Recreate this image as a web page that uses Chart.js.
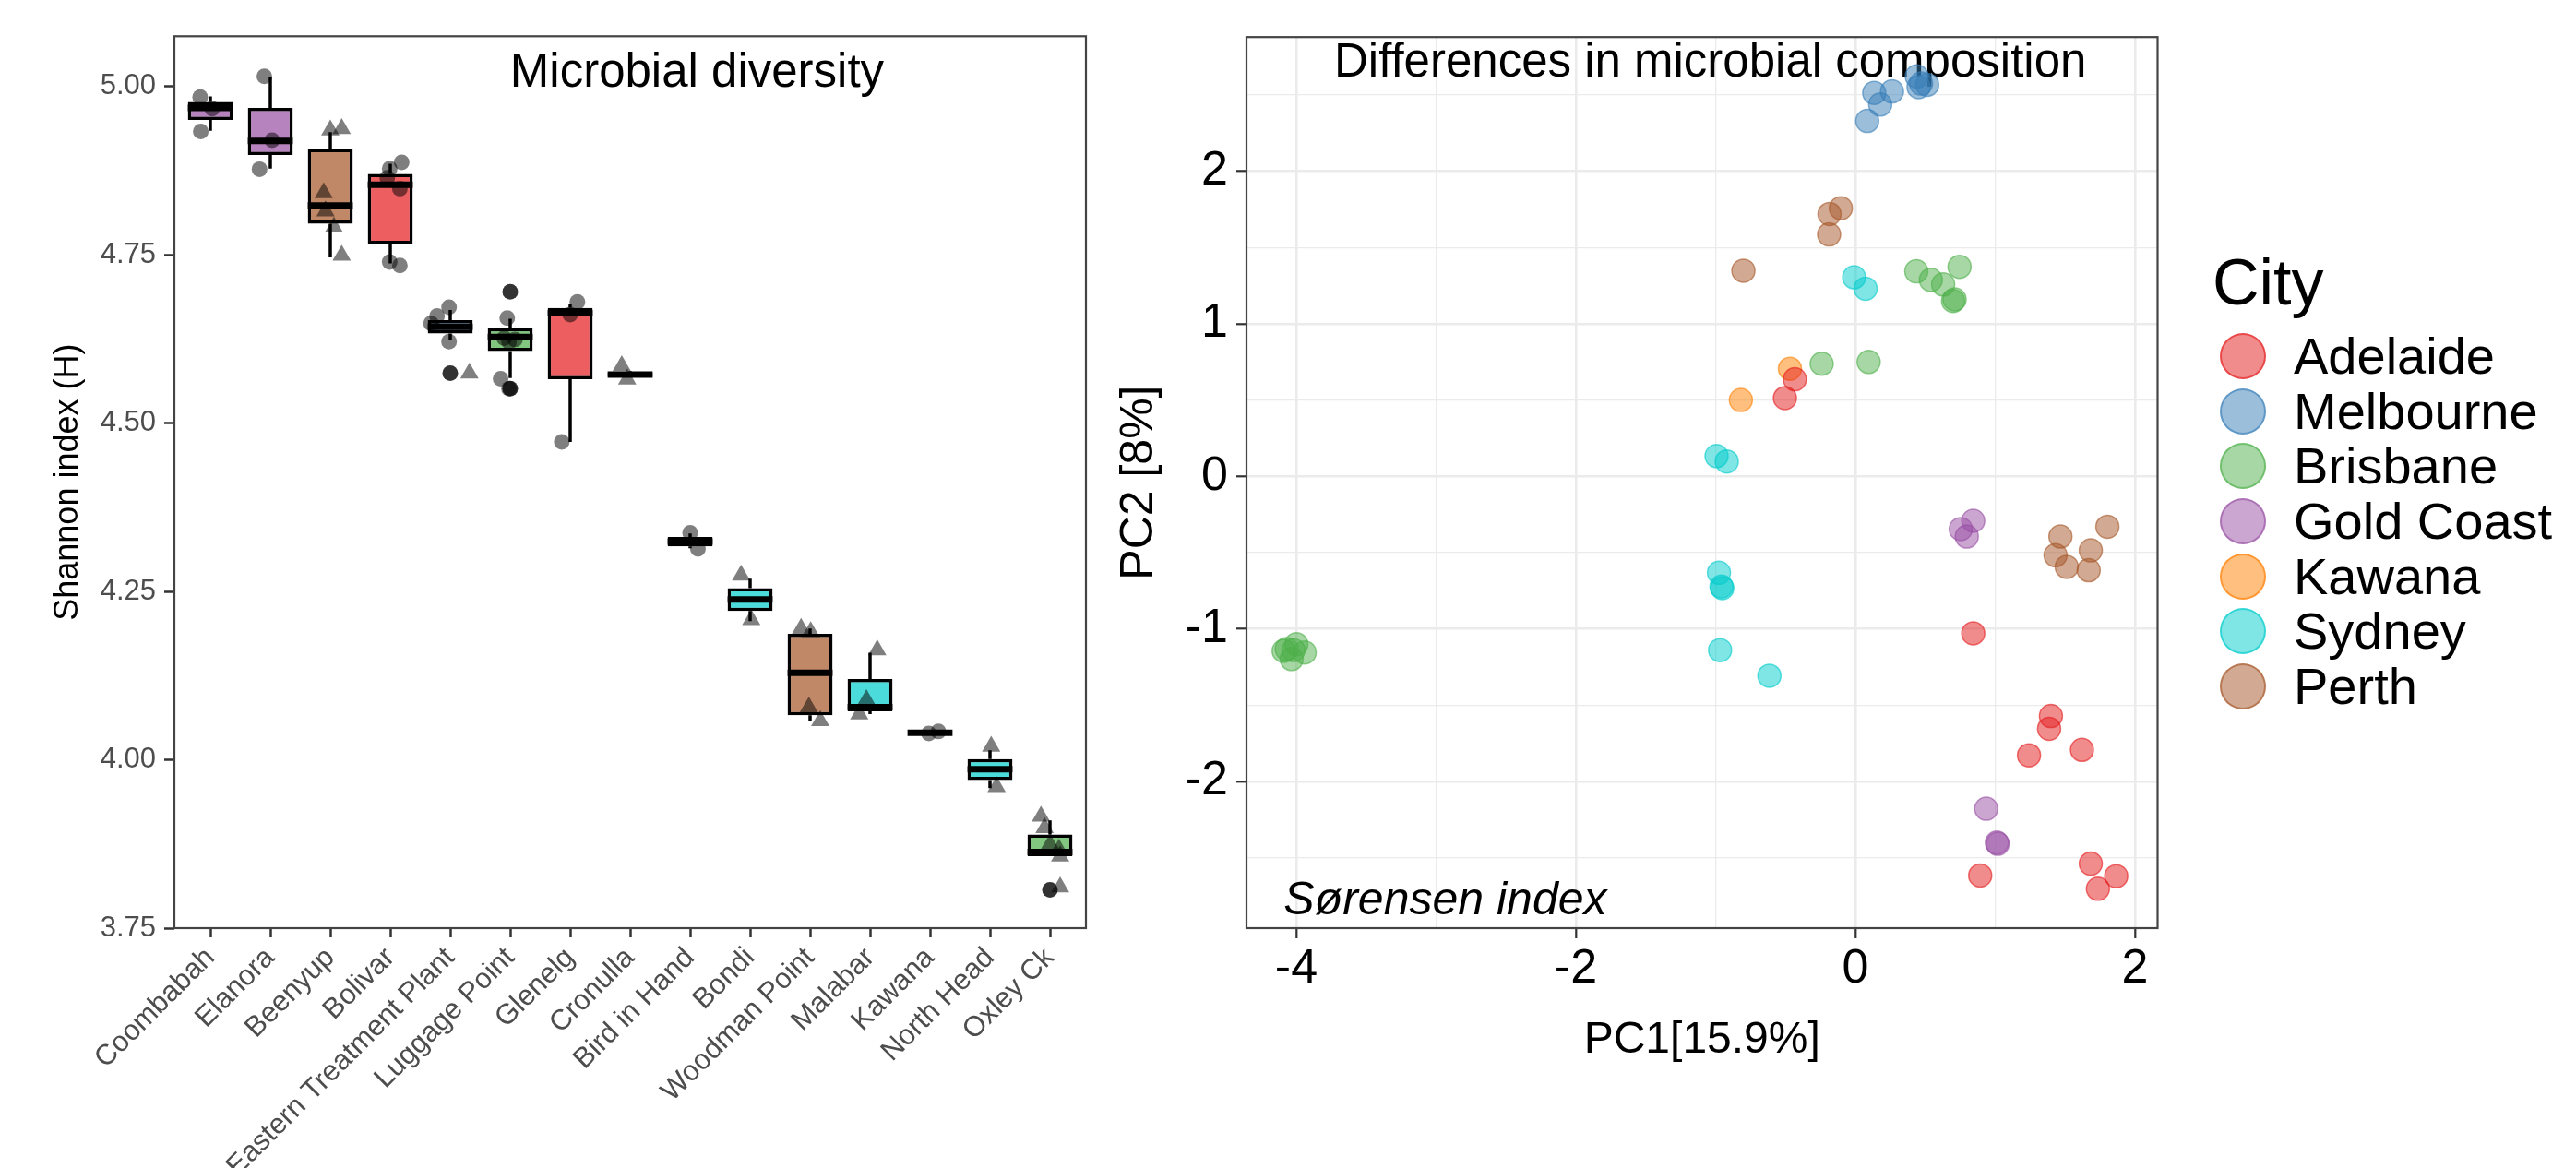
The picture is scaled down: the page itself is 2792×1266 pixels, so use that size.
<!DOCTYPE html>
<html>
<head>
<meta charset="utf-8">
<title>Microbial diversity and composition</title>
<script src="https://cdn.jsdelivr.net/npm/chart.js@4.4.1/dist/chart.umd.min.js"></script>
<style>
  html, body { margin: 0; padding: 0; background: #fff; }
  #stage { position: relative; width: 2792px; height: 1266px; overflow: hidden;
           font-family: 'Liberation Sans', Arial, Helvetica, sans-serif; }
  #diversity   { position: absolute; left: 0; top: 0; }
  #composition { position: absolute; left: 1190px; top: 0; }
  #city-legend { position: absolute; left: 2406px; top: 271px; color: #000; }
  .lg-title { font-size: 70px; line-height: 70px; height: 70px; margin: 0 0 15px -8px; }
  .lg-row   { display: flex; align-items: center; height: 59.7px; font-size: 56px; line-height: 59.7px; white-space: nowrap; }
  .lg-dot   { box-sizing: border-box; width: 50px; height: 50px; border-radius: 50%;
              border: 2px solid; margin-right: 30px; flex: none; }
</style>
</head>
<body>
<div id="stage">
  <canvas id="diversity" width="1190" height="1266"></canvas>
  <canvas id="composition" width="1170" height="1266"></canvas>
  <div id="city-legend"></div>
</div>

<script>
'use strict';

/* ──────────────────────────────────────────
   Left panel — Shannon index per site
   ────────────────────────────────────────── */
const sites = ['Coombabah', 'Elanora', 'Beenyup', 'Bolivar', 'Eastern Treatment Plant',
  'Luggage Point', 'Glenelg', 'Cronulla', 'Bird in Hand', 'Bondi', 'Woodman Point',
  'Malabar', 'Kawana', 'North Head', 'Oxley Ck'];
const siteCity = ['Gold Coast', 'Gold Coast', 'Perth', 'Adelaide', 'Melbourne',
  'Brisbane', 'Adelaide', 'Sydney', 'Adelaide', 'Sydney', 'Perth',
  'Sydney', 'Kawana', 'Sydney', 'Brisbane'];

const whiskerLow  = [4.934, 4.878, 4.746, 4.737, 4.624, 4.567, 4.472, 4.568, 4.314, 4.206, 4.057, 4.068, 4.039, 3.958, 3.857];
const boxLow      = [4.950, 4.898, 4.796, 4.766, 4.633, 4.607, 4.565, 4.569, 4.317, 4.221, 4.066, 4.072, 4.0395, 3.970, 3.857];
const medians     = [4.968, 4.919, 4.823, 4.854, 4.643, 4.628, 4.663, 4.572, 4.324, 4.238, 4.129, 4.078, 4.040, 3.986, 3.863];
const boxHigh     = [4.977, 4.968, 4.907, 4.870, 4.653, 4.641, 4.671, 4.575, 4.331, 4.255, 4.187, 4.120, 4.0405, 4.001, 3.889];
const whiskerHigh = [4.985, 5.014, 4.932, 4.885, 4.668, 4.655, 4.677, 4.577, 4.336, 4.269, 4.195, 4.159, 4.041, 4.014, 3.910];

/* jittered samples (x = site position + jitter) */
const circleX = [0.83, 0.84, 1.03, 1.90, 1.82, 2.03,
  4.19, 3.99, 3.95, 4.16, 3.99, 4.16,
  4.98, 4.78, 4.68, 4.98,
  5.95, 5.90, 6.08, 5.98, 5.84, 5.98,
  7.12, 7.00, 6.86, 9.00, 9.13, 12.98, 13.14];
const circleY = [4.984, 4.933, 4.967, 5.015, 4.877, 4.920,
  4.887, 4.878, 4.864, 4.848, 4.739, 4.734,
  4.672, 4.659, 4.648, 4.621,
  4.656, 4.626, 4.624, 4.621, 4.566, 4.551,
  4.680, 4.661, 4.472, 4.337, 4.313, 4.039, 4.042];

const triangleX = [3.00, 3.19, 2.89, 2.92, 3.06, 3.19, 5.32, 7.86, 7.95,
  9.85, 10.02, 10.85, 11.01, 10.98, 11.17, 12.12, 11.94, 11.82,
  14.02, 14.11, 14.85, 14.91, 15.00, 15.15, 15.17, 15.17];
const triangleY = [4.935, 4.937, 4.842, 4.815, 4.791, 4.749, 4.574, 4.585, 4.565,
  4.274, 4.208, 4.195, 4.190, 4.078, 4.058, 4.163, 4.089, 4.068,
  4.020, 3.960, 3.916, 3.899, 3.875, 3.867, 3.857, 3.811];

const outlierX = [5, 6, 6, 15];
const outlierY = [4.574, 4.695, 4.551, 3.807];

const shannonTicks = [3.75, 4.00, 4.25, 4.50, 4.75, 5.00];

/* ──────────────────────────────────────────
   Right panel — PCA of Sørensen distances
   ────────────────────────────────────────── */
const cities = ['Adelaide', 'Melbourne', 'Brisbane', 'Gold Coast', 'Kawana', 'Sydney', 'Perth'];

const pc1Adelaide  = [-0.433, -0.504, 0.843, 1.399, 1.386, 1.242, 1.621, 0.893, 1.684, 1.866, 1.735];
const pc2Adelaide  = [0.636, 0.513, -1.030, -1.572, -1.656, -1.830, -1.794, -2.618, -2.540, -2.622, -2.705];
const pc1Melbourne = [0.085, 0.135, 0.178, 0.262, 0.439, 0.452, 0.470, 0.514];
const pc2Melbourne = [2.330, 2.514, 2.438, 2.524, 2.622, 2.552, 2.575, 2.567];
const pc1Brisbane  = [0.436, 0.540, 0.628, 0.745, 0.699, 0.710, -0.241, 0.095,
  -4.068, -3.999, -4.033, -3.940, -4.090, -4.020];
const pc2Brisbane  = [1.344, 1.288, 1.258, 1.374, 1.150, 1.160, 0.738, 0.750,
  -1.133, -1.101, -1.198, -1.155, -1.145, -1.140];
const pc1GoldCoast = [0.754, 0.843, 0.797, 0.936, 1.012, 1.018];
const pc2GoldCoast = [-0.346, -0.292, -0.395, -2.180, -2.402, -2.410];
const pc1Kawana    = [-0.468, -0.819];
const pc2Kawana    = [0.705, 0.500];
const pc1Sydney    = [-0.009, 0.073, -0.993, -0.920, -0.976, -0.958, -0.952, -0.968, -0.615];
const pc2Sydney    = [1.305, 1.230, 0.133, 0.097, -0.633, -0.723, -0.733, -1.140, -1.308];
const pc1Perth     = [-0.185, -0.104, -0.188, -0.801, 1.467, 1.432, 1.512, 1.684, 1.669, 1.803];
const pc2Perth     = [1.720, 1.758, 1.586, 1.348, -0.395, -0.518, -0.594, -0.486, -0.616, -0.331];

const pc1Grid   = [-4, -3, -2, -1, 0, 1, 2];
const pc1Labels = [-4, -2, 0, 2];
const pc2Grid   = [-2.5, -2, -1.5, -1, -0.5, 0, 0.5, 1, 1.5, 2, 2.5];
const pc2Labels = [-2, -1, 0, 1, 2];

/* ──────────────────────────────────────────
   Styles
   ────────────────────────────────────────── */
const cityRGB = {
  'Adelaide':   '228,26,28',
  'Melbourne':  '55,126,184',
  'Brisbane':   '77,175,74',
  'Gold Coast': '152,78,163',
  'Kawana':     '255,127,0',
  'Sydney':     '0,204,204',
  'Perth':      '166,86,40'
};
const FONT = "'Liberation Sans', Arial, Helvetica, sans-serif";
Chart.defaults.font.family = FONT;
Chart.defaults.color = '#000';

const pts = (xs, ys) => xs.map((x, i) => ({ x, y: ys[i] }));

/* full panel border, drawn over everything */
const panelFrame = {
  id: 'panelFrame',
  afterDraw(chart, args, opts) {
    const { ctx, chartArea: a } = chart;
    ctx.save();
    ctx.strokeStyle = opts.color;
    ctx.lineWidth = opts.width;
    ctx.strokeRect(a.left, a.top, a.right - a.left, a.bottom - a.top);
    ctx.restore();
  }
};

/* in-panel annotations placed at data coordinates */
const panelText = {
  id: 'panelText',
  beforeDatasetsDraw(chart, args, opts) {
    const { ctx, scales: { x, y } } = chart;
    (opts.items || []).forEach(t => {
      ctx.save();
      ctx.font = t.font;
      ctx.fillStyle = '#000';
      ctx.textAlign = t.align;
      ctx.textBaseline = 'alphabetic';
      ctx.fillText(t.text, x.getPixelForValue(t.x), y.getPixelForValue(t.y));
      ctx.restore();
    });
  }
};

/* whiskers under the boxes, medians on top of them */
const boxParts = {
  id: 'boxParts',
  beforeDatasetsDraw(chart) {
    const { ctx, scales: { x, y } } = chart;
    ctx.save();
    ctx.strokeStyle = '#000';
    ctx.lineWidth = 3.5;
    sites.forEach((s, i) => {
      const px = x.getPixelForValue(i + 1);
      ctx.beginPath();
      ctx.moveTo(px, y.getPixelForValue(whiskerHigh[i]));
      ctx.lineTo(px, y.getPixelForValue(boxHigh[i]));
      ctx.moveTo(px, y.getPixelForValue(boxLow[i]));
      ctx.lineTo(px, y.getPixelForValue(whiskerLow[i]));
      ctx.stroke();
    });
    ctx.restore();
  },
  afterDatasetDraw(chart, args) {
    if (args.index !== 0) return;
    const { ctx, scales: { y } } = chart;
    ctx.save();
    ctx.strokeStyle = '#000';
    ctx.lineWidth = 7;
    args.meta.data.forEach((bar, i) => {
      const { x: cx, width } = bar.getProps(['x', 'width'], true);
      const py = y.getPixelForValue(medians[i]);
      ctx.beginPath();
      ctx.moveTo(cx - width / 2, py);
      ctx.lineTo(cx + width / 2, py);
      ctx.stroke();
    });
    ctx.restore();
  }
};

/* HTML legend for the city colours */
const htmlLegend = {
  id: 'htmlLegend',
  afterUpdate(chart, args, opts) {
    const box = document.getElementById(opts.containerID);
    box.innerHTML = '';
    const title = document.createElement('div');
    title.className = 'lg-title';
    title.textContent = opts.title;
    box.appendChild(title);
    chart.options.plugins.legend.labels.generateLabels(chart).forEach(item => {
      const row = document.createElement('div');
      row.className = 'lg-row';
      const dot = document.createElement('span');
      dot.className = 'lg-dot';
      dot.style.background = item.fillStyle;
      dot.style.borderColor = item.strokeStyle;
      const txt = document.createElement('span');
      txt.textContent = item.text;
      row.append(dot, txt);
      box.appendChild(row);
    });
  }
};

/* ──────────────────────────────────────────
   Chart 1 — box plots
   ────────────────────────────────────────── */
new Chart(document.getElementById('diversity'), {
  type: 'bar',
  data: {
    datasets: [
      {
        type: 'bar',
        data: sites.map((s, i) => ({ x: i + 1, y: [boxLow[i], boxHigh[i]] })),
        backgroundColor: siteCity.map(c => `rgba(${cityRGB[c]},0.7)`),
        borderColor: '#000',
        borderWidth: 3.5,
        borderSkipped: false,
        categoryPercentage: 0.75,
        barPercentage: 1,
        order: 3
      },
      {
        type: 'scatter',
        data: pts(outlierX, outlierY),
        pointRadius: 8.5,
        backgroundColor: 'rgba(0,0,0,0.8)',
        borderWidth: 0,
        order: 2
      },
      {
        type: 'scatter',
        data: pts(circleX, circleY),
        pointStyle: 'circle',
        pointRadius: 8.5,
        backgroundColor: 'rgba(0,0,0,0.5)',
        borderWidth: 0,
        order: 1
      },
      {
        type: 'scatter',
        data: pts(triangleX, triangleY),
        pointStyle: 'triangle',
        pointRadius: 11.5,
        backgroundColor: 'rgba(0,0,0,0.5)',
        borderWidth: 0,
        order: 0
      }
    ]
  },
  options: {
    responsive: false,
    devicePixelRatio: 1,
    animation: false,
    events: [],
    layout: { padding: { top: 39.3, right: 13, bottom: 0, left: 0 } },
    plugins: {
      legend: { display: false },
      tooltip: { enabled: false },
      panelFrame: { color: '#444', width: 2.2 },
      panelText: {
        items: [{ text: 'Microbial diversity', x: 9.115, y: 5.0, align: 'center', font: `51px ${FONT}` }]
      }
    },
    scales: {
      x: {
        type: 'linear',
        min: 0.4,
        max: 15.6,
        offset: false,
        afterBuildTicks: axis => { axis.ticks = sites.map((s, i) => ({ value: i + 1 })); },
        afterFit: axis => { axis.height = 260; },
        grid: { drawOnChartArea: false, offset: false, tickLength: 10, tickColor: '#333', tickWidth: 2.5 },
        border: { display: false },
        ticks: {
          autoSkip: false,
          minRotation: 45,
          maxRotation: 45,
          padding: 4,
          color: '#4D4D4D',
          font: { size: 31 },
          callback: v => sites[v - 1]
        }
      },
      y: {
        min: 3.75,
        max: 5.0744,
        beginAtZero: false,
        afterBuildTicks: axis => { axis.ticks = shannonTicks.map(v => ({ value: v })); },
        afterFit: axis => { axis.width = 189; },
        grid: { drawOnChartArea: false, tickLength: 11, tickColor: '#333', tickWidth: 2.5 },
        border: { display: false },
        ticks: { padding: 9, color: '#4D4D4D', font: { size: 31 }, callback: v => v.toFixed(2) },
        title: { display: true, text: 'Shannon index (H)', color: '#000', font: { size: 36 }, padding: { top: 52, bottom: 0 } }
      }
    }
  },
  plugins: [boxParts, panelText, panelFrame]
});

/* ──────────────────────────────────────────
   Chart 2 — PCA scatter
   ────────────────────────────────────────── */
const pcSeries = {
  'Adelaide':   [pc1Adelaide, pc2Adelaide],
  'Melbourne':  [pc1Melbourne, pc2Melbourne],
  'Brisbane':   [pc1Brisbane, pc2Brisbane],
  'Gold Coast': [pc1GoldCoast, pc2GoldCoast],
  'Kawana':     [pc1Kawana, pc2Kawana],
  'Sydney':     [pc1Sydney, pc2Sydney],
  'Perth':      [pc1Perth, pc2Perth]
};

const isMajorX = v => pc1Labels.includes(v);
const isMajorY = v => pc2Labels.includes(v);

new Chart(document.getElementById('composition'), {
  type: 'scatter',
  data: {
    datasets: cities.map(c => ({
      label: c,
      data: pts(pcSeries[c][0], pcSeries[c][1]),
      pointRadius: 12.5,
      borderWidth: 1.5,
      backgroundColor: `rgba(${cityRGB[c]},0.5)`,
      borderColor: `rgba(${cityRGB[c]},0.6)`
    }))
  },
  options: {
    responsive: false,
    devicePixelRatio: 1,
    animation: false,
    events: [],
    layout: { padding: { top: 39.3, right: 21.5, bottom: 0, left: 0 } },
    plugins: {
      legend: { display: false },
      tooltip: { enabled: false },
      htmlLegend: { containerID: 'city-legend', title: 'City' },
      panelFrame: { color: '#444', width: 2.2 },
      panelText: {
        items: [
          { text: 'Differences in microbial composition', x: -1.038, y: 2.622, align: 'center', font: `51px ${FONT}` },
          { text: 'Sørensen index', x: -4.09, y: -2.87, align: 'left', font: `italic 50px ${FONT}` }
        ]
      }
    },
    scales: {
      x: {
        type: 'linear',
        min: -4.356,
        max: 2.162,
        afterBuildTicks: axis => { axis.ticks = pc1Grid.map(v => ({ value: v })); },
        afterFit: axis => { axis.height = 260; },
        grid: {
          color: '#EBEBEB',
          lineWidth: c => (c.tick && isMajorX(c.tick.value)) ? 2.6 : 1.3,
          tickLength: 11,
          tickWidth: 2.2,
          tickColor: c => (c.tick && isMajorX(c.tick.value)) ? '#333' : 'rgba(0,0,0,0)'
        },
        border: { display: false },
        ticks: { padding: 2, color: '#000', font: { size: 52 }, callback: v => isMajorX(v) ? String(v) : '' },
        title: { display: true, text: 'PC1[15.9%]', color: '#000', font: { size: 48 }, padding: { top: 0, bottom: 109 } }
      },
      y: {
        type: 'linear',
        min: -2.963,
        max: 2.88,
        afterBuildTicks: axis => { axis.ticks = pc2Grid.map(v => ({ value: v })); },
        afterFit: axis => { axis.width = 161; },
        grid: {
          color: '#EBEBEB',
          lineWidth: c => (c.tick && isMajorY(c.tick.value)) ? 2.6 : 1.3,
          tickLength: 11,
          tickWidth: 2.2,
          tickColor: c => (c.tick && isMajorY(c.tick.value)) ? '#333' : 'rgba(0,0,0,0)'
        },
        border: { display: false },
        ticks: { padding: 9, color: '#000', font: { size: 52 }, callback: v => isMajorY(v) ? String(v) : '' },
        title: { display: true, text: 'PC2 [8%]', color: '#000', font: { size: 50 }, padding: { top: 15, bottom: 0 } }
      }
    }
  },
  plugins: [panelText, panelFrame, htmlLegend]
});
</script>
</body>
</html>
